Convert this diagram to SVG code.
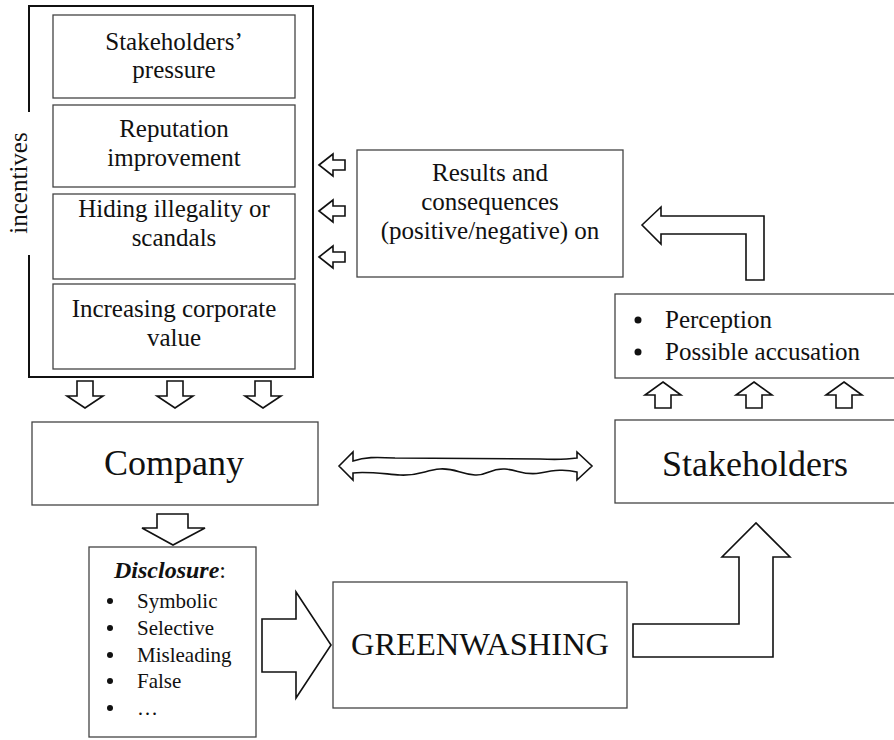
<svg xmlns="http://www.w3.org/2000/svg" width="894" height="740" viewBox="0 0 894 740">
<style>
.box{fill:#fff;stroke:#444;stroke-width:1.3;}
.arr{fill:#fff;stroke:#111;stroke-width:1.6;stroke-linejoin:miter;}
.br{fill:none;stroke:#111;stroke-width:2;}
text{font-family:"Liberation Serif","Times New Roman",serif;}
</style>
<defs>
<path id="dn" d="M-8,0 H8 V15 H18 L0,27 L-18,15 H-8 Z"/>
<path id="up" d="M0,0 L18,13 H8 V26 H-8 V13 H-18 Z"/>
<path id="lf" d="M0,0 L14,-11 V-5 H26 V5 H14 V11 Z"/>
</defs>
<g fill="#111">
<g id="incentives">
<path class="br" d="M29,112 V6 H313 V377 H29 V255"/>
<text font-size="25" transform="translate(27,183) rotate(-90)" text-anchor="middle">incentives</text>
</g>
<g id="stakeholders-pressure" font-size="25" text-anchor="middle">
<rect class="box" x="53" y="15" width="242" height="83"/>
<text x="174" y="50">Stakeholders’</text>
<text x="174" y="78">pressure</text>
</g>
<g id="reputation" font-size="25" text-anchor="middle">
<rect class="box" x="53" y="105" width="242" height="82"/>
<text x="174" y="137">Reputation</text>
<text x="174" y="166">improvement</text>
</g>
<g id="hiding" font-size="25" text-anchor="middle">
<rect class="box" x="53" y="194" width="242" height="85"/>
<text x="174" y="217">Hiding illegality or</text>
<text x="174" y="246">scandals</text>
</g>
<g id="increasing" font-size="25" text-anchor="middle">
<rect class="box" x="53" y="284" width="242" height="85"/>
<text x="174" y="317">Increasing corporate</text>
<text x="174" y="346">value</text>
</g>
<g id="results" font-size="25" text-anchor="middle">
<rect class="box" x="357" y="150" width="266" height="127"/>
<text x="490" y="181">Results and</text>
<text x="490" y="210">consequences</text>
<text x="490" y="239">(positive/negative) on</text>
</g>
<g id="perception" font-size="25">
<rect class="box" x="615" y="294" width="290" height="84"/>
<circle cx="638" cy="320" r="3.5"/>
<circle cx="638" cy="352" r="3.5"/>
<text x="665" y="328">Perception</text>
<text x="665" y="360">Possible accusation</text>
</g>
<g id="company" font-size="36" text-anchor="middle">
<rect class="box" x="32" y="422" width="286" height="83"/>
<text x="174" y="475">Company</text>
</g>
<g id="stakeholders" font-size="36" text-anchor="middle">
<rect class="box" x="615" y="420" width="290" height="83"/>
<text x="755" y="476">Stakeholders</text>
</g>
<g id="disclosure" font-size="21">
<rect class="box" x="89" y="547" width="167" height="190"/>
<text x="170" y="578" font-size="24" text-anchor="middle"><tspan font-weight="bold" font-style="italic">Disclosure</tspan>:</text>
<circle cx="110" cy="601" r="3"/>
<circle cx="110" cy="628" r="3"/>
<circle cx="110" cy="655" r="3"/>
<circle cx="110" cy="681" r="3"/>
<circle cx="110" cy="708" r="3"/>
<text x="137" y="608">Symbolic</text>
<text x="137" y="635">Selective</text>
<text x="137" y="662">Misleading</text>
<text x="137" y="688">False</text>
<text x="137" y="715">…</text>
</g>
<g id="greenwashing">
<rect class="box" x="333" y="582" width="294" height="126"/>
<text x="480" y="655" font-size="32.5" text-anchor="middle">GREENWASHING</text>
</g>
</g>
<g id="connectors">
<use href="#lf" class="arr" x="319" y="165"/>
<use href="#lf" class="arr" x="319" y="211"/>
<use href="#lf" class="arr" x="319" y="257"/>
<use href="#dn" class="arr" x="85" y="381"/>
<use href="#dn" class="arr" x="175" y="381"/>
<use href="#dn" class="arr" x="263" y="381"/>
<use href="#up" class="arr" x="663" y="382"/>
<use href="#up" class="arr" x="754" y="382"/>
<use href="#up" class="arr" x="844" y="382"/>
<path class="arr" d="M642,225 L661,207 V216 H764 V280 H746 V234 H661 V244 Z"/>
<path class="arr" d="M157,514 H188 V528 H205 L173,545 L142,528 H157 Z"/>
<path class="arr" d="M262,619 H296 V592 L331,645 L296,698 V672 H262 Z"/>
<path class="arr" d="M633,624 H739 V557 H722 L756,523 L790,557 H773 V657 H633 Z"/>
<path class="arr" d="M339,466 L353,452 L353,461 C365,457 375,457 395,458 L540,459 C560,460 570,459 577,458 L577,452 L592,466 L577,480 L577,472 C565,469 555,470 540,473 C525,476 518,470 505,469 C490,468 487,476 475,475 C460,474 455,468 440,469 C425,470 420,476 400,475 C385,474 365,471 353,473 L353,480 Z"/>
</g>
</svg>
